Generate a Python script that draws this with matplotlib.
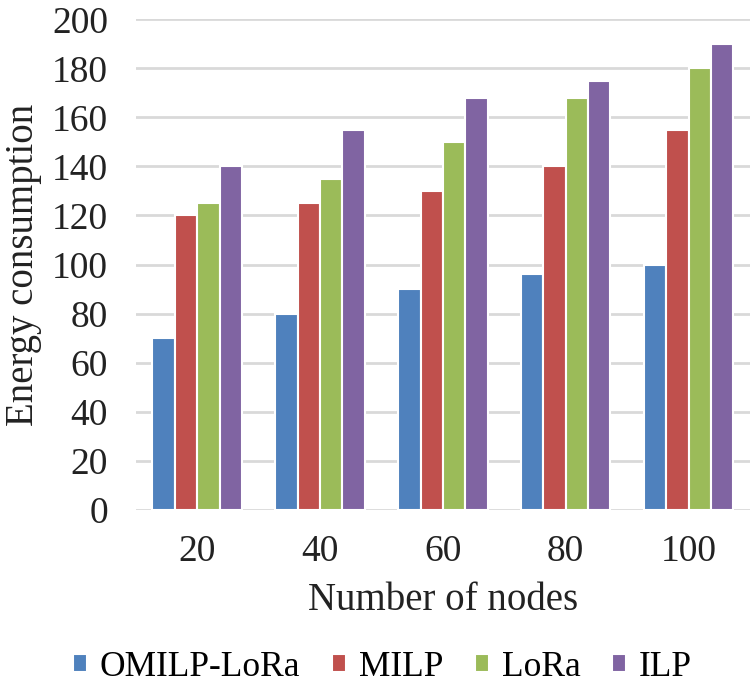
import numpy as np
import matplotlib
matplotlib.use('Agg')
import matplotlib.pyplot as plt

plt.rcParams['font.family'] = ['Liberation Serif', 'DejaVu Serif']

nodes = ['20', '40', '60', '80', '100']
series = ['OMILP-LoRa', 'MILP', 'LoRa', 'ILP']
omilp = [70, 80, 90, 96, 100]
milp = [120, 125, 130, 140, 155]
lora = [125, 135, 150, 168, 180]
ilp = [140, 155, 168, 175, 190]
colors = ['#4F81BD', '#C0504D', '#9BBB59', '#8064A2']

fig = plt.figure(figsize=(7.5, 6.88), dpi=100)
ax = fig.add_axes([0.181, 0.259, 0.819, 0.713])

x = np.arange(len(nodes))
pitch = 0.182
for i, (vals, name) in enumerate(zip([omilp, milp, lora, ilp], series)):
    ax.bar(x + (i - 1.5) * pitch, vals, width=pitch, color=colors[i],
           edgecolor='white', linewidth=1.5, label=name, zorder=3)

ax.set_xlim(-0.5, 4.5)
ax.set_ylim(0, 200)
ax.set_yticks(range(0, 201, 20))
ax.set_xticks(x)
ax.set_xticklabels(nodes)
ax.yaxis.grid(True, color='#D9D9D9', linewidth=2, zorder=0)
for s in ax.spines.values():
    s.set_visible(False)
ax.tick_params(axis='both', length=0, labelsize=27, colors='#222222')
ax.tick_params(axis='y', pad=20)
ax.tick_params(axis='x', pad=18)
ax.set_ylabel('Energy consumption', fontsize=28, color='#222222')
ax.yaxis.set_label_coords(-0.153, 0.5)
ax.set_xlabel('Number of nodes', fontsize=28, color='#222222', labelpad=9)

fig.legend(loc='center', bbox_to_anchor=(0.51, 0.03), ncol=4, frameon=False,
           fontsize=25.5, handlelength=0.4, handleheight=0.4, handletextpad=0.35,
           columnspacing=0.9)

plt.savefig('out.png', dpi=100)
